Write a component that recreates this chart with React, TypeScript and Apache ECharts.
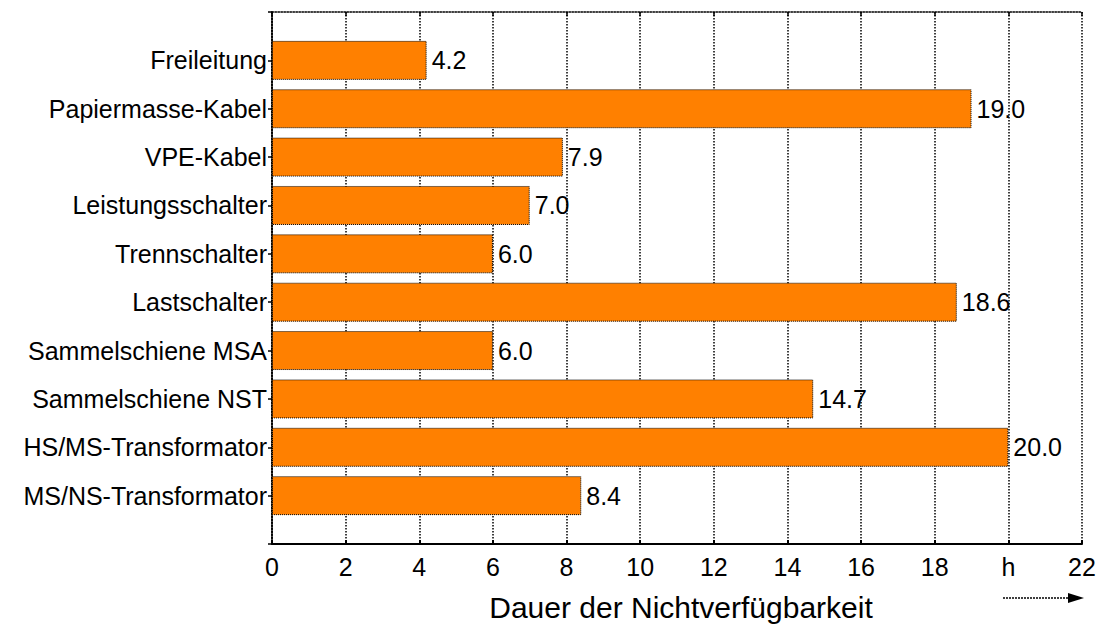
import React, { useEffect, useRef } from "react";
import * as echarts from "echarts";

const categories = [
  "Freileitung",
  "Papiermasse-Kabel",
  "VPE-Kabel",
  "Leistungsschalter",
  "Trennschalter",
  "Lastschalter",
  "Sammelschiene MSA",
  "Sammelschiene NST",
  "HS/MS-Transformator",
  "MS/NS-Transformator",
];
const values = [4.2, 19.0, 7.9, 7.0, 6.0, 18.6, 6.0, 14.7, 20.0, 8.4];
const xTicks = [0, 2, 4, 6, 8, 10, 12, 14, 16, 18, 20, 22];
const unitLabel = "h";
const axisTitle = "Dauer der Nichtverfügbarkeit";

export default function App() {
  const ref = useRef<HTMLDivElement>(null);
  useEffect(() => {
    if (!ref.current) return;
    const chart = echarts.init(ref.current, null, { renderer: "svg" });
    const yData = ["", ...categories, ""];
    const sData = [null, ...values, null];
    const font = "Liberation Sans, Arial, sans-serif";
    chart.setOption({
      animation: false,
      textStyle: { fontFamily: font },
      grid: { left: 272, right: 18, top: 12, bottom: 81 },
      xAxis: [
        {
          type: "value",
          min: xTicks[0],
          max: xTicks[xTicks.length - 1],
          interval: 2,
          position: "bottom",
          axisLine: { show: true, lineStyle: { color: "#000", width: 2 } },
          axisTick: { show: true, inside: true, length: 4, lineStyle: { color: "#000", width: 2 } },
          axisLabel: {
            fontSize: 25,
            color: "#000",
            margin: 10,
            fontFamily: font,
            formatter: (v: number) => (v === 20 ? unitLabel : String(v)),
          },
          splitLine: { show: true, lineStyle: { color: "#000", type: "dotted", width: 1.5 } },
        },
        {
          type: "value",
          min: xTicks[0],
          max: xTicks[xTicks.length - 1],
          interval: 2,
          position: "top",
          axisLine: { show: true, lineStyle: { color: "#000", type: "dotted", width: 1.5 } },
          axisTick: { show: true, inside: true, length: 4, lineStyle: { color: "#000", width: 1.5 } },
          axisLabel: { show: false },
          splitLine: { show: false },
        },
      ],
      yAxis: [
        {
          type: "category",
          data: yData,
          inverse: true,
          boundaryGap: false,
          position: "left",
          axisLine: { show: true, lineStyle: { color: "#000", type: "dotted", width: 1.5 } },
          axisTick: { show: false },
          axisLabel: { fontSize: 25, color: "#000", margin: 5, fontFamily: font },
          splitLine: { show: false },
        },
        {
          type: "category",
          data: yData,
          inverse: true,
          boundaryGap: false,
          position: "right",
          axisLine: { show: true, lineStyle: { color: "#000", type: "dotted", width: 1.5 } },
          axisTick: { show: true, inside: true, length: 4, lineStyle: { color: "#000", width: 1.5 } },
          axisLabel: { show: false },
          splitLine: { show: false },
        },
      ],
      series: [
        {
          type: "bar",
          xAxisIndex: 0,
          yAxisIndex: 0,
          data: sData,
          barWidth: 39,
          itemStyle: {
            color: "#FF8000",
            borderColor: "#000",
            borderWidth: 1,
            borderType: "dotted",
          },
          label: {
            show: true,
            position: "right",
            distance: 5,
            fontSize: 25,
            color: "#000",
            fontFamily: font,
            formatter: (p: any) => (p.value == null ? "" : Number(p.value).toFixed(1)),
          },
        },
      ],
      graphic: [
        {
          type: "text",
          x: 681,
          y: 607,
          style: {
            text: axisTitle,
            fontSize: 30,
            fill: "#000",
            fontFamily: font,
            align: "center",
            verticalAlign: "middle",
          },
        },
        {
          type: "line",
          shape: { x1: 1003, y1: 598, x2: 1074, y2: 598 },
          style: { stroke: "#000", lineWidth: 1.5, lineDash: [2, 1] },
        },
        {
          type: "polygon",
          shape: { points: [[1068, 593], [1084, 598], [1068, 603]] },
          style: { fill: "#000" },
        },
      ],
    });
    return () => chart.dispose();
  }, []);
  return (
    <div
      ref={ref}
      style={{ position: "absolute", left: 0, top: 0, width: 1100, height: 625, background: "#fff" }}
    />
  );
}
